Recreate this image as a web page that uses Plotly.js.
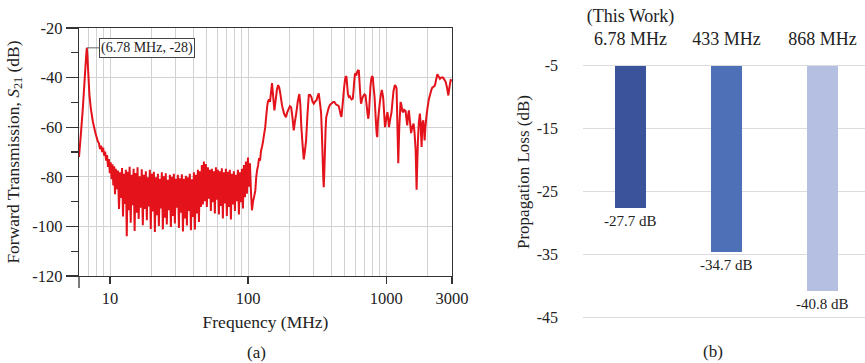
<!DOCTYPE html>
<html>
<head>
<meta charset="utf-8">
<script src="https://cdn.plot.ly/plotly-3.0.1.min.js"></script>
<style>
  html, body { margin: 0; padding: 0; background: #fff; }
  #chart { width: 865px; height: 363px; }
</style>
</head>
<body>
<div id="chart"></div>
<script>
// ---- (a) forward transmission sweep, S21 vs frequency ----
// resonance around the 6.78 MHz carrier
const peakFreqMHz = [5.95, 6.16, 6.35, 6.55, 6.70, 6.78, 6.85, 6.93, 7.08, 7.25, 7.49, 7.80, 8.14];
const peakS21dB   = [-72.0, -61.7, -52.0, -40.0, -31.5, -28.0, -31.5, -37.0, -47.0, -52.5, -57.6, -62.0, -65.7];

// noise floor between ~8 MHz and ~105 MHz
const noiseFreqMHz = [
  8.30, 8.45, 8.60, 8.75, 8.90, 9.05, 9.20, 9.35, 9.50, 9.65,
  9.80, 9.95, 10.10, 10.25, 10.40, 10.55, 10.70, 10.85, 11.00, 11.20,
  11.40, 11.60, 11.80, 12.00, 12.20, 12.40, 12.60, 12.80, 13.00, 13.20,
  13.40, 13.60, 13.85, 14.10, 14.30, 14.55, 14.80, 15.05, 15.30, 15.55,
  15.80, 16.10, 16.40, 16.65, 16.95, 17.25, 17.55, 17.85, 18.15, 18.45,
  18.75, 19.05, 19.40, 19.70, 20.05, 20.40, 20.75, 21.10, 21.45, 21.80,
  22.20, 22.55, 22.95, 23.30, 23.70, 24.10, 24.50, 24.90, 25.30, 25.75,
  26.20, 26.60, 27.10, 27.55, 28.00, 28.50, 28.95, 29.45, 29.95, 30.45,
  30.95, 31.50, 32.00, 32.55, 33.10, 33.70, 34.25, 34.80, 35.40, 36.00,
  36.60, 37.20, 37.80, 38.50, 39.10, 39.80, 40.45, 41.15, 41.85, 42.55,
  43.25, 44.00, 44.70, 45.50, 46.20, 47.00, 47.80, 48.60, 49.40, 50.20,
  51.10, 51.90, 52.80, 53.70, 54.60, 55.50, 56.40, 57.40, 58.40, 59.40,
  60.40, 61.40, 62.40, 63.40, 64.50, 65.60, 66.70, 67.80, 69.00, 70.10,
  71.30, 72.50, 73.70, 75.00, 76.20, 77.50, 78.80, 80.20, 81.50, 82.90,
  84.30, 85.70, 87.20, 88.60, 90.10, 91.70, 93.20, 94.80, 96.40, 98.00,
  99.70, 101.40, 103.10, 104.80
];
const noiseS21dB = [
  -66.5, -68.8, -67.4, -70.0, -68.2, -71.5, -69.8, -73.5, -71.2, -76.0,
  -72.8, -78.5, -74.2, -81.0, -75.0, -83.5, -75.8, -87.0, -76.8, -85.0,
  -77.5, -93.0, -78.2, -88.5, -76.5, -96.0, -78.8, -91.0, -77.2, -104.0,
  -78.0, -93.5, -76.0, -98.5, -79.2, -91.5, -76.8, -101.8, -78.5, -94.5,
  -76.2, -97.0, -79.8, -92.5, -77.0, -99.5, -79.2, -93.0, -77.8, -97.5,
  -80.2, -92.0, -77.2, -101.0, -78.8, -94.0, -78.0, -102.2, -80.2, -95.5,
  -78.8, -99.8, -80.8, -92.8, -78.2, -101.2, -79.8, -96.5, -78.6, -99.2,
  -81.2, -93.5, -79.2, -100.2, -80.0, -95.8, -78.8, -98.8, -80.8, -92.5,
  -79.2, -100.6, -80.6, -94.5, -79.0, -102.0, -80.8, -96.8, -79.6, -99.6,
  -80.2, -93.8, -78.8, -101.5, -81.0, -96.2, -78.2, -101.2, -79.2, -94.8,
  -77.2, -98.2, -77.8, -92.2, -75.2, -91.2, -73.8, -89.8, -74.8, -92.2,
  -76.2, -88.8, -77.2, -93.8, -76.8, -90.2, -77.8, -94.8, -76.2, -89.2,
  -77.2, -95.2, -77.8, -91.8, -76.6, -96.8, -78.2, -90.8, -76.8, -95.8,
  -78.0, -92.2, -77.2, -97.2, -78.8, -91.2, -77.8, -93.8, -79.2, -89.8,
  -77.2, -95.2, -78.2, -90.2, -76.8, -92.8, -75.2, -88.2, -73.8, -86.8,
  -72.2, -84.0, -74.5, -86.0
];

// UHF part of the sweep, ~105 MHz to 3 GHz
const upperFreqMHz = [
  106.6, 108.5, 110.5, 112.8, 114.5, 116, 118, 120, 122, 124,
  126, 128, 130, 133, 135.5, 137.5, 139, 141.5, 144, 146.5,
  149, 151.5, 155, 158, 161.5, 165, 168, 171, 176, 182,
  188, 192, 197, 201, 205, 209.5, 214, 218, 223, 229,
  235, 239, 243, 248, 253, 258, 263, 269, 275, 281,
  287, 293, 299, 306, 313, 319, 325, 331, 336, 338,
  342, 346, 350, 353, 356, 360, 364, 368, 374, 382,
  390, 398, 406, 414, 422, 430, 438, 446, 454, 462,
  468, 474, 480, 488, 496, 503, 509, 516, 522, 528,
  536, 545, 553, 562, 573, 580, 587, 594, 600, 608,
  616, 625, 634, 640, 648, 656, 660, 670, 682, 696,
  709, 720, 733, 743, 751, 760, 770, 780, 792, 801,
  810, 824, 834, 845, 855, 862, 872, 885, 900, 915,
  930, 945, 953, 965, 981, 1000, 1022, 1035, 1048, 1068,
  1094, 1110, 1130, 1157, 1175, 1190, 1205, 1224, 1245, 1272,
  1290, 1310, 1326, 1350, 1383, 1405, 1422, 1440, 1461, 1490,
  1516, 1545, 1580, 1605, 1635, 1662, 1680, 1698, 1725, 1756,
  1775, 1790, 1807, 1830, 1859, 1880, 1900, 1925, 1955, 1990,
  2041, 2090, 2130, 2160, 2200, 2256, 2300, 2349, 2400, 2453,
  2510, 2579, 2640, 2698, 2760, 2823, 2880, 2934, 3000
];
const upperS21dB = [
  -93.5, -90.0, -88.0, -85.5, -80.0, -77.5, -75.5, -72.5, -73.5, -69.5,
  -68.0, -66.0, -63.5, -60.0, -55.0, -51.5, -49.8, -48.8, -49.8, -46.0,
  -42.2, -47.0, -53.2, -49.5, -45.0, -43.0, -44.0, -46.4, -51.2, -54.5,
  -56.0, -54.0, -52.5, -51.5, -52.0, -56.0, -61.3, -58.0, -54.5, -49.5,
  -46.6, -51.0, -60.0, -67.0, -73.0, -69.5, -65.3, -55.0, -47.1, -47.0,
  -47.8, -49.8, -50.5, -49.6, -49.1, -47.5, -46.4, -50.0, -53.0, -54.5,
  -62.0, -71.0, -80.0, -84.2, -79.0, -70.0, -61.0, -56.0, -54.5, -52.5,
  -51.2, -50.6, -50.2, -49.8, -49.8, -50.6, -51.0, -51.2, -51.6, -53.5,
  -55.0, -55.8, -53.0, -48.5, -44.0, -41.0, -39.5, -39.8, -43.0, -46.5,
  -47.8, -47.5, -48.2, -48.8, -48.5, -45.5, -41.5, -38.6, -38.3, -39.2,
  -37.8, -37.1, -37.2, -41.0, -46.0, -50.0, -50.5, -48.5, -47.5, -46.8,
  -47.1, -50.5, -54.5, -56.6, -54.0, -49.0, -43.5, -40.5, -39.4, -40.0,
  -43.5, -47.8, -53.0, -59.0, -63.0, -64.0, -57.5, -53.9, -50.0, -47.0,
  -45.0, -47.0, -48.5, -53.5, -60.0, -57.0, -53.9, -56.5, -60.0, -57.0,
  -53.9, -50.0, -45.5, -43.0, -43.5, -44.4, -58.0, -74.5, -60.0, -49.8,
  -51.0, -53.5, -54.0, -53.0, -53.5, -57.0, -59.3, -55.5, -53.2, -58.0,
  -62.4, -60.0, -58.6, -62.0, -69.0, -85.2, -75.0, -66.0, -58.0, -54.5,
  -58.0, -63.0, -68.0, -58.5, -57.2, -61.0, -65.3, -60.0, -56.0, -52.5,
  -48.6, -46.5, -44.8, -44.0, -43.8, -43.2, -41.0, -38.6, -39.5, -40.5,
  -40.0, -40.0, -40.8, -41.7, -44.0, -47.2, -43.5, -41.0, -41.2
];

// marked resonance point
const markerFreqMHz = 6.78;
const markerS21dB = -28;

const freqTicks = [10, 100, 1000, 3000];
const freqGrid = [7, 8, 9, 20, 30, 40, 50, 60, 70, 80, 90,
                  200, 300, 400, 500, 600, 700, 800, 900, 2000];
const s21Ticks = [-20, -40, -60, -80, -100, -120];
const s21MinorTicks = [-30, -50, -70, -90, -110];

// ---- (b) propagation loss per carrier ----
const bandLabels = ['(This Work)<br>6.78 MHz', '433 MHz', '868 MHz'];
const lossDb = [-27.7, -34.7, -40.8];
const lossTicks = [-5, -15, -25, -35, -45];
const barBaseDb = -5;
const barColors = ['#3a539b', '#4e70b7', '#b5bfe2'];

const FONT = 'Liberation Serif, Times New Roman, serif';
const INK = '#222';

const sweepF = peakFreqMHz.concat(noiseFreqMHz, upperFreqMHz);
const sweepDb = peakS21dB.concat(noiseS21dB, upperS21dB);

const traces = [
  {
    type: 'scatter', mode: 'lines',
    x: sweepF, y: sweepDb,
    xaxis: 'x', yaxis: 'y',
    line: { color: '#e3121b', width: 2, simplify: false },
    hoverinfo: 'x+y', showlegend: false
  },
  {
    type: 'bar',
    x: bandLabels.map((_, i) => i),
    y: lossDb.map(v => v - barBaseDb),
    base: barBaseDb,
    width: 0.323,
    xaxis: 'x2', yaxis: 'y2',
    marker: { color: barColors, line: { width: 0 } },
    showlegend: false, hoverinfo: 'skip'
  }
];

const annotations = [
  {
    xref: 'x', yref: 'y',
    x: Math.log10(markerFreqMHz), y: markerS21dB,
    text: '(' + markerFreqMHz + ' MHz, ' + markerS21dB + ')',
    showarrow: true, arrowhead: 0, arrowwidth: 1, arrowcolor: '#666',
    ax: 60, ay: 0, standoff: 0,
    bordercolor: '#444', borderwidth: 1, borderpad: 1, bgcolor: '#fff',
    font: { family: FONT, size: 14, color: INK }
  },
  {
    xref: 'paper', yref: 'paper', x: 256 / 865, y: (363 - 352) / 363,
    text: '(a)', showarrow: false, xanchor: 'center', yanchor: 'middle',
    font: { family: FONT, size: 17, color: INK }
  },
  {
    xref: 'paper', yref: 'paper', x: 713 / 865, y: (363 - 351) / 363,
    text: '(b)', showarrow: false, xanchor: 'center', yanchor: 'middle',
    font: { family: FONT, size: 17, color: INK }
  },
  {
    xref: 'paper', yref: 'paper', x: 523 / 865, y: (363 - 172) / 363,
    text: 'Propagation Loss (dB)', textangle: -90, showarrow: false,
    xanchor: 'center', yanchor: 'middle',
    font: { family: FONT, size: 17, color: INK }
  }
].concat(lossDb.map((v, i) => ({
  xref: 'x2', yref: 'y2', x: i, y: v,
  text: v.toFixed(1) + ' dB', showarrow: false,
  xanchor: 'center', yanchor: 'top', yshift: -3,
  font: { family: FONT, size: 15, color: INK }
})));

const layout = {
  width: 865, height: 363,
  margin: { l: 0, r: 0, t: 0, b: 0 },
  paper_bgcolor: '#fff', plot_bgcolor: '#fff',
  font: { family: FONT, color: INK },
  xaxis: {
    type: 'log', domain: [79 / 865, 452 / 865], anchor: 'y',
    range: [Math.log10(5.95), Math.log10(3000)],
    tickmode: 'array', tickvals: freqTicks, ticktext: freqTicks.map(String),
    ticks: 'outside', ticklen: 7, tickwidth: 1.3, tickcolor: '#333',
    showline: true, linecolor: '#333', linewidth: 1.3, mirror: true,
    showgrid: true, gridcolor: '#d2d2d2', gridwidth: 1, zeroline: false,
    minor: { tickmode: 'array', tickvals: freqGrid, ticks: '', showgrid: true, gridcolor: '#d2d2d2', gridwidth: 1 },
    tickfont: { family: FONT, size: 16.5, color: INK },
    title: { text: 'Frequency (MHz)', standoff: 8, font: { family: FONT, size: 17.5, color: INK } }
  },
  yaxis: {
    domain: [(363 - 276) / 363, (363 - 28) / 363], anchor: 'x',
    range: [-120, -20],
    tickmode: 'array', tickvals: s21Ticks, ticktext: s21Ticks.map(String),
    ticks: 'outside', ticklen: 12, tickwidth: 1.3, tickcolor: '#333',
    minor: { tickmode: 'array', tickvals: s21MinorTicks, ticks: 'outside', ticklen: 7, tickwidth: 1.3, tickcolor: '#333', showgrid: false },
    showline: true, linecolor: '#333', linewidth: 1.3, mirror: true,
    showgrid: true, gridcolor: '#d2d2d2', gridwidth: 1, zeroline: false,
    tickfont: { family: FONT, size: 16.5, color: INK },
    title: { text: 'Forward Transmission, <i>S</i><sub>21</sub> (dB)', standoff: 8, font: { family: FONT, size: 17.5, color: INK } }
  },
  xaxis2: {
    domain: [583 / 865, 1], anchor: 'y2', side: 'top',
    range: [-0.495, 2.443],
    tickmode: 'array', tickvals: bandLabels.map((_, i) => i), ticktext: bandLabels,
    ticks: '', showline: false, showgrid: false, zeroline: false,
    ticklabelstandoff: 14,
    tickfont: { family: FONT, size: 18, color: INK }
  },
  yaxis2: {
    domain: [(363 - 318.9) / 363, (363 - 63.8) / 363], anchor: 'x2',
    range: [-45.3, -4.7],
    tickmode: 'array', tickvals: lossTicks, ticktext: lossTicks.map(String),
    ticks: '', showline: false, zeroline: false,
    showgrid: true, gridcolor: '#dcdcdc', gridwidth: 1,
    ticklabelstandoff: 24,
    tickfont: { family: FONT, size: 16, color: INK }
  },
  shapes: [
    {
      type: 'line', xref: 'paper', yref: 'paper',
      x0: 79 / 865, x1: 79 / 865,
      y0: (363 - 276) / 363, y1: (363 - 288) / 363,
      line: { color: '#333', width: 1.3 }
    }
  ],
  annotations: annotations,
  bargap: 0
};

Plotly.newPlot('chart', traces, layout, { displayModeBar: false, staticPlot: true });
</script>
</body>
</html>
